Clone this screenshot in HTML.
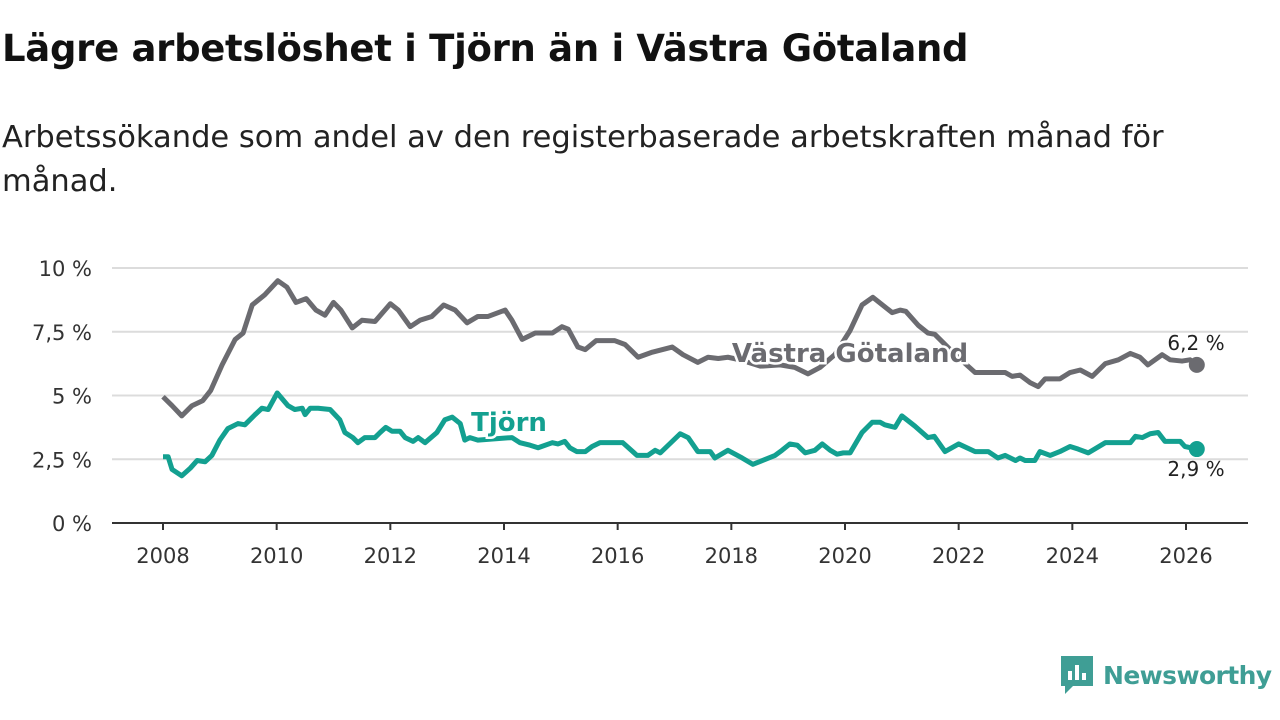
<!DOCTYPE html>
<html><head><meta charset="utf-8"><style>
body{margin:0;width:1280px;height:720px;background:#fff;font-family:"DejaVu Sans","Liberation Sans",sans-serif;overflow:hidden;position:relative}
h1{position:absolute;left:2px;top:27px;margin:0;font-size:37px;font-weight:bold;color:#111;letter-spacing:-0.3px;white-space:nowrap}
p.sub{position:absolute;left:2px;top:116px;margin:0;font-size:30.5px;line-height:44px;color:#222;width:1200px}
svg{position:absolute;left:0;top:0}
</style></head><body>
<h1>Lägre arbetslöshet i Tjörn än i Västra Götaland</h1>
<p class="sub">Arbetssökande som andel av den registerbaserade arbetskraften månad för månad.</p>
<svg id="chart" width="1280" height="720"></svg>
<script>
const yTicks=[0,2.5,5,7.5,10];
const yTickLabels=["0 %","2,5 %","5 %","7,5 %","10 %"];
const xTicks=[2008,2010,2012,2014,2016,2018,2020,2022,2024,2026];
const vgDates=[2008.0,2008.16,2008.33,2008.51,2008.70,2008.84,2009.04,2009.27,2009.41,2009.57,2009.79,2010.02,2010.18,2010.34,2010.52,2010.69,2010.85,2011.0,2011.13,2011.33,2011.50,2011.73,2012.0,2012.14,2012.35,2012.52,2012.73,2012.94,2013.14,2013.35,2013.54,2013.72,2014.02,2014.14,2014.32,2014.55,2014.85,2015.02,2015.13,2015.30,2015.43,2015.62,2015.95,2016.13,2016.36,2016.61,2016.96,2017.15,2017.41,2017.59,2017.77,2017.94,2018.15,2018.51,2018.86,2019.12,2019.35,2019.56,2019.82,2020.09,2020.30,2020.49,2020.83,2020.97,2021.07,2021.29,2021.46,2021.58,2021.94,2022.29,2022.82,2022.94,2023.08,2023.26,2023.40,2023.52,2023.78,2023.96,2024.14,2024.35,2024.58,2024.81,2025.02,2025.19,2025.33,2025.58,2025.72,2025.93,2026.07,2026.19];
const vgValues=[4.95,4.6,4.2,4.6,4.8,5.2,6.2,7.2,7.45,8.55,8.95,9.5,9.25,8.65,8.8,8.35,8.15,8.65,8.35,7.65,7.95,7.9,8.6,8.35,7.7,7.95,8.1,8.55,8.35,7.85,8.1,8.1,8.35,7.95,7.2,7.45,7.45,7.7,7.6,6.9,6.8,7.15,7.15,7.0,6.5,6.7,6.9,6.6,6.3,6.5,6.45,6.5,6.4,6.15,6.2,6.1,5.85,6.1,6.6,7.55,8.55,8.85,8.25,8.35,8.3,7.75,7.45,7.4,6.6,5.9,5.9,5.75,5.8,5.5,5.35,5.65,5.65,5.9,6.0,5.75,6.25,6.4,6.65,6.5,6.2,6.6,6.4,6.35,6.4,6.2];
const tjDates=[2008.0,2008.09,2008.16,2008.33,2008.48,2008.60,2008.74,2008.86,2009.0,2009.14,2009.32,2009.44,2009.62,2009.74,2009.85,2010.01,2010.20,2010.32,2010.45,2010.50,2010.59,2010.73,2010.94,2011.11,2011.20,2011.34,2011.43,2011.55,2011.73,2011.82,2011.92,2012.03,2012.17,2012.26,2012.40,2012.49,2012.61,2012.82,2012.96,2013.09,2013.23,2013.31,2013.40,2013.54,2014.14,2014.28,2014.46,2014.60,2014.85,2014.95,2015.07,2015.16,2015.28,2015.43,2015.55,2015.69,2016.09,2016.34,2016.53,2016.66,2016.75,2017.10,2017.24,2017.41,2017.63,2017.71,2017.94,2018.19,2018.38,2018.77,2018.89,2019.03,2019.16,2019.30,2019.47,2019.60,2019.74,2019.86,2019.97,2020.09,2020.30,2020.48,2020.62,2020.70,2020.88,2021.00,2021.23,2021.46,2021.57,2021.76,2022.0,2022.29,2022.52,2022.69,2022.82,2023.0,2023.08,2023.17,2023.34,2023.43,2023.61,2023.78,2023.96,2024.10,2024.28,2024.58,2025.02,2025.11,2025.23,2025.37,2025.51,2025.63,2025.90,2025.98,2026.19];
const tjValues=[2.6,2.6,2.1,1.85,2.15,2.45,2.4,2.65,3.25,3.7,3.9,3.85,4.25,4.5,4.45,5.1,4.6,4.45,4.5,4.25,4.5,4.5,4.45,4.05,3.55,3.35,3.15,3.35,3.35,3.55,3.75,3.6,3.6,3.35,3.2,3.35,3.15,3.55,4.05,4.15,3.9,3.25,3.35,3.25,3.35,3.15,3.05,2.95,3.15,3.1,3.2,2.95,2.8,2.8,3.0,3.15,3.15,2.65,2.65,2.85,2.75,3.5,3.35,2.8,2.8,2.55,2.85,2.55,2.3,2.65,2.85,3.1,3.05,2.75,2.85,3.1,2.85,2.7,2.75,2.75,3.55,3.95,3.95,3.85,3.75,4.2,3.8,3.35,3.4,2.8,3.1,2.8,2.8,2.55,2.65,2.45,2.55,2.45,2.45,2.8,2.65,2.8,3.0,2.9,2.75,3.15,3.15,3.4,3.35,3.5,3.55,3.2,3.2,3.0,2.9];
const NS='http://www.w3.org/2000/svg';
const svg=document.getElementById('chart');
const X=y=>163+(y-2008)*(1186-163)/18;
const Y=v=>523-v*25.5;
function mk(t,a){const e=document.createElementNS(NS,t);for(const k in a)e.setAttribute(k,a[k]);svg.appendChild(e);return e;}
yTicks.forEach((v,i)=>{
  if(v>0){const g=mk('line',{x1:112,x2:1248,y1:Y(v),y2:Y(v),stroke:'#dcdcdc','stroke-width':2});
  
  }
  const t=mk('text',{x:92,y:Y(v)+8,'text-anchor':'end','font-size':21,fill:'#333'});
  t.textContent=yTickLabels[i];
  
  
});
const ax=mk('line',{x1:112,x2:1248,y1:523,y2:523,stroke:'#333','stroke-width':2});


xTicks.forEach(y=>{
  const tk=mk('line',{x1:X(y),x2:X(y),y1:523,y2:530,stroke:'#333','stroke-width':2});
  
  
  const t=mk('text',{x:X(y),y:563,'text-anchor':'middle','font-size':21,fill:'#333'});
  t.textContent=y;
  
  
});
function line(d,v,c,name){
  const p=mk('polyline',{points:d.map((x,i)=>X(x)+','+Y(v[i])).join(' '),fill:'none',stroke:c,'stroke-width':5,'stroke-linejoin':'round'});
  
  
  const n=d.length-1;
  const c2=mk('circle',{cx:X(d[n]),cy:Y(v[n]),r:8,fill:c});
  
  
}
line(vgDates,vgValues,'#6b6b70','vastra-gotaland-line');
line(tjDates,tjValues,'#13a090','tjorn-line');
function lab(x,y,s,c,name,bold,anchor,size){
  const t=mk('text',{x:x,y:y,'font-size':size,'font-weight':bold?'bold':'normal',fill:c,'text-anchor':anchor,stroke:'#fff','stroke-width':bold?5:0,'paint-order':'stroke'});
  t.textContent=s;
  
  
}
lab(850,362,'Västra Götaland','#6b6b70','vastra-gotaland-label',true,'middle',26);
lab(509,431,'Tjörn','#13a090','tjorn-label',true,'middle',26);
lab(1196,350,'6,2 %','#222','vastra-gotaland-end-value',false,'middle',20);
lab(1196,476,'2,9 %','#222','tjorn-end-value',false,'middle',20);
</script>
<div style="position:absolute;left:1059px;top:654px;height:42px;display:flex;align-items:center">
<svg width="36" height="42" style="position:static" viewBox="0 0 36 42"><path d="M2 2h32v30H14l-8 8v-8H2z" fill="#3f9e95"/><rect x="9" y="17" width="4" height="9" fill="#fff"/><rect x="16" y="11" width="4" height="15" fill="#fff"/><rect x="23" y="19" width="4" height="7" fill="#fff"/></svg>
<span style="font-size:25px;font-weight:bold;color:#3f9e95;margin-left:8px;letter-spacing:-0.6px">Newsworthy</span></div>
</body></html>
